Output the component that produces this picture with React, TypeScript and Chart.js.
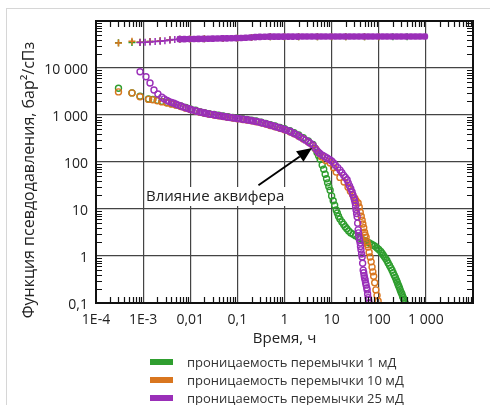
import React, { useEffect, useRef } from 'react';
import { Chart, registerables } from 'chart.js';

Chart.register(...registerables);

const FONT = '"Open Sans", "Noto Sans", sans-serif';

// ---- axis ticks ----
const xTickValues = [1e-4, 1e-3, 0.01, 0.1, 1, 10, 100, 1000, 10000];
const xTickLabels = ['1E-4', '1E-3', '0,01', '0,1', '1', '10', '100', '1 000', ''];
const yTickValues = [0.1, 1, 10, 100, 1000, 10000, 100000];
const yTickLabels = ['0,1', '1', '10', '100', '1 000', '10 000', ''];
const minorMultipliers = [2, 3, 4, 5, 6, 7, 8, 9];

const xTitle = 'Время, ч';
const yTitle = 'Функция псевдодавления, бар²/сПз';

const seriesNames = [
  'проницаемость перемычки 1 мД',
  'проницаемость перемычки 10 мД',
  'проницаемость перемычки 25 мД',
];
const seriesColors = ['#2f9e2f', '#d9761f', '#9a2fb8'];

// ---- upper curves (pseudo-pressure change) ----
const greenPressT = [3e-4, 5.8e-4, 8.6e-4, 1.4e-3, 2.3e-3, 3.7e-3, 6e-3, 0.01, 0.02, 0.05, 0.1, 0.2, 0.5, 1, 2, 5, 10, 20, 50, 100, 200, 400];
const greenPressV = [34500, 35000, 35500, 36500, 38000, 40000, 41000, 41500, 42000, 42500, 43000, 44500, 46000, 46500, 46500, 46500, 46500, 46500, 46500, 46500, 46500, 46500];
const orangePressT = [3e-4, 5.8e-4, 8.6e-4, 1.4e-3, 2.3e-3, 3.7e-3, 6e-3, 0.01, 0.02, 0.05, 0.1, 0.2, 0.5, 1, 2, 5, 10, 20, 50, 100];
const orangePressV = [34000, 37000, 35500, 36500, 38000, 40000, 41000, 41500, 42000, 42500, 43000, 44500, 46000, 46500, 46500, 46500, 46500, 46500, 46500, 46500];
const purplePressT = [8.6e-4, 1.1e-3, 1.4e-3, 1.8e-3, 2.3e-3, 2.9e-3, 3.7e-3, 4.7e-3, 6e-3, 7.5e-3, 0.0095, 0.012, 0.015, 0.019, 0.024, 0.03, 0.038, 0.048, 0.06, 0.075, 0.095, 0.12, 0.15, 0.19, 0.24, 0.3, 0.38, 0.48, 0.6, 0.75, 0.95, 1.2, 1.5, 1.9, 2.4, 3, 3.8, 4.8, 6, 7.5, 9.5, 12, 15, 19, 24, 30, 38, 48, 60, 75, 95, 120, 150, 190, 240, 300, 380, 480, 600, 750, 950];
const purplePressV = [35000, 35500, 35800, 36500, 37000, 38000, 39500, 40500, 41000, 41200, 41400, 41500, 41600, 41800, 42000, 42200, 42400, 42600, 42800, 43000, 43200, 43500, 44000, 44500, 45500, 46000, 46300, 46500, 46500, 46500, 46500, 46600, 46600, 46600, 46700, 46700, 46700, 46700, 46800, 46800, 46800, 46800, 46800, 46800, 46800, 46800, 46800, 46800, 46800, 46800, 46800, 46800, 46800, 46800, 46800, 46800, 46800, 46800, 46800, 46800, 46800];

// ---- lower curves (derivative) ----
const greenDerivT = [3e-4, 5.8e-4, 8.6e-4, 1.3e-3, 1.6e-3, 2e-3, 2.5e-3, 3.2e-3, 4e-3, 5e-3, 6.3e-3, 8e-3, 0.01, 0.013, 0.016, 0.02, 0.025, 0.032, 0.04, 0.05, 0.063, 0.08, 0.1, 0.13, 0.16, 0.2, 0.25, 0.32, 0.4, 0.5, 0.63, 0.8, 1, 1.3, 1.6, 2, 2.5, 3.2, 4, 4.4, 4.9, 5.3, 5.7, 6.3, 6.8, 7.3, 7.8, 8.2, 8.7, 9.3, 10, 10.8, 11.6, 12.5, 13.2, 14, 15, 16.5, 18, 19.4, 21, 23, 25.5, 28.6, 32, 36.5, 41, 46.7, 52, 57, 63, 70, 76, 83, 92, 100, 110, 117, 124, 132, 140, 149, 158, 169, 180, 191, 202, 213, 225, 236, 246, 255, 265, 275, 285, 297, 310, 320, 330, 340, 350, 364];
const greenDerivV = [3700, 2950, 2500, 2200, 2150, 2050, 1950, 1850, 1750, 1650, 1550, 1450, 1350, 1260, 1180, 1120, 1070, 1030, 990, 950, 915, 885, 860, 830, 800, 775, 745, 705, 665, 625, 585, 545, 510, 465, 420, 375, 330, 280, 235, 195, 160, 135, 115, 86, 70, 55, 44, 36, 30, 25, 19, 15, 12, 9.5, 8.2, 7, 6.1, 5.3, 4.7, 4.2, 3.8, 3.4, 3.1, 2.9, 2.7, 2.5, 2.35, 2.2, 2.1, 2.0, 1.9, 1.78, 1.7, 1.62, 1.48, 1.38, 1.25, 1.15, 1.05, 0.96, 0.88, 0.8, 0.71, 0.63, 0.56, 0.5, 0.44, 0.39, 0.35, 0.31, 0.28, 0.25, 0.23, 0.21, 0.19, 0.17, 0.155, 0.14, 0.13, 0.12, 0.115, 0.1];
const orangeDerivT = [3e-4, 5.8e-4, 8.6e-4, 1.3e-3, 1.6e-3, 2e-3, 2.5e-3, 3.2e-3, 4e-3, 5e-3, 6.3e-3, 8e-3, 0.01, 0.013, 0.016, 0.02, 0.025, 0.032, 0.04, 0.05, 0.063, 0.08, 0.1, 0.13, 0.16, 0.2, 0.25, 0.32, 0.4, 0.5, 0.63, 0.8, 1, 1.3, 1.6, 2, 2.5, 3.2, 4, 4.6, 5.3, 6.2, 7.5, 9.3, 11, 12.5, 15, 18.4, 22.3, 25, 28, 31, 33, 36.5, 38.5, 40.5, 42.5, 44.4, 46, 48, 50, 51.4, 54, 56, 57.5, 59.6, 62.5, 65.7, 69, 72, 75, 78, 82, 87, 92, 97];
const orangeDerivV = [3100, 2950, 2450, 2150, 2100, 2000, 1900, 1800, 1700, 1620, 1520, 1400, 1310, 1220, 1150, 1090, 1040, 1000, 960, 925, 890, 860, 835, 805, 780, 750, 720, 680, 640, 600, 560, 520, 485, 440, 400, 355, 310, 265, 225, 190, 155, 128, 108, 95, 75, 61, 47, 37.5, 29, 24, 20, 17, 15, 13.4, 11, 8.5, 7, 5.8, 4.8, 4, 3.2, 2.8, 2.5, 2.0, 1.75, 1.55, 1.2, 0.95, 0.75, 0.58, 0.46, 0.37, 0.27, 0.19, 0.145, 0.11];
const purpleDerivT = [8.6e-4, 1.15e-3, 1.4e-3, 1.7e-3, 2.06e-3, 2.5e-3, 2.8e-3, 3.2e-3, 3.5e-3, 4e-3, 4.5e-3, 5e-3, 5.6e-3, 6.3e-3, 7.1e-3, 8e-3, 9e-3, 0.01, 0.011, 0.013, 0.014, 0.016, 0.018, 0.02, 0.022, 0.025, 0.028, 0.032, 0.035, 0.04, 0.045, 0.05, 0.056, 0.063, 0.071, 0.08, 0.09, 0.1, 0.11, 0.13, 0.14, 0.16, 0.18, 0.2, 0.22, 0.25, 0.28, 0.32, 0.35, 0.4, 0.45, 0.5, 0.56, 0.63, 0.71, 0.8, 0.9, 1, 1.1, 1.3, 1.4, 1.6, 1.8, 2, 2.2, 2.5, 2.8, 3.2, 3.5, 4, 4.4, 4.9, 5.3, 5.7, 6.5, 7.2, 8, 9, 10, 11, 12, 13.5, 15.1, 16.5, 18, 19.5, 21.3, 22.5, 24, 25.5, 27.2, 28.3, 29.5, 30.5, 31.5, 32.2, 33, 33.9, 34.8, 35.7, 36.5, 37.2, 38, 39, 40.3, 41, 42, 43.2, 44.4, 45.5, 46.7, 48, 49, 50, 51.4, 52.5, 54, 55.5, 56.7, 58, 59.6, 61, 62.5];
const purpleDerivV = [8300, 6500, 4800, 3400, 2800, 2400, 2200, 2050, 1950, 1850, 1780, 1700, 1620, 1550, 1480, 1420, 1370, 1320, 1280, 1230, 1195, 1160, 1130, 1100, 1075, 1050, 1030, 1010, 990, 970, 950, 935, 918, 900, 885, 870, 858, 845, 830, 815, 803, 790, 775, 760, 745, 730, 710, 690, 670, 650, 630, 610, 590, 570, 550, 530, 512, 495, 472, 450, 428, 405, 383, 360, 338, 315, 292, 270, 250, 230, 200, 175, 160, 150, 137, 130, 122, 113, 105, 95, 85, 76, 67, 59, 52, 47, 42, 36, 31, 27, 23, 20, 17.5, 15.5, 13.5, 11.5, 9.5, 8, 6.8, 5, 3.6, 3.1, 2.6, 2.2, 1.9, 1.6, 1.35, 1.1, 0.95, 0.7, 0.5, 0.44, 0.38, 0.34, 0.31, 0.27, 0.24, 0.21, 0.19, 0.155, 0.13, 0.115, 0.1];

// ---- annotation ----
const annotationText = 'Влияние аквифера';
const annotationTextAt = [1.15e-3, 18];
const arrowFrom = [0.28, 32];
const arrowTo = [3.85, 199];

const toPoints = (t: number[], v: number[]) => t.map((x, i) => ({ x, y: v[i] }));

const frameBoxPlugin = {
  id: 'frameBox',
  afterDatasetsDraw(chart: any) {
    const { ctx, chartArea: a, scales } = chart;
    const xs = scales.x;
    const ys = scales.y;
    ctx.save();
    // minor ticks
    ctx.strokeStyle = '#111';
    ctx.lineWidth = 1.2;
    const tickLen = 6;
    ctx.beginPath();
    for (let i = 0; i < xTickValues.length - 1; i++) {
      for (const m of minorMultipliers) {
        const px = Math.round(xs.getPixelForValue(xTickValues[i] * m)) + 0.5;
        ctx.moveTo(px, a.bottom);
        ctx.lineTo(px, a.bottom - tickLen);
        ctx.moveTo(px, a.top);
        ctx.lineTo(px, a.top + tickLen);
      }
    }
    for (let i = 0; i < yTickValues.length - 1; i++) {
      for (const m of minorMultipliers) {
        const py = Math.round(ys.getPixelForValue(yTickValues[i] * m)) + 0.5;
        ctx.moveTo(a.left, py);
        ctx.lineTo(a.left + tickLen, py);
        ctx.moveTo(a.right, py);
        ctx.lineTo(a.right - tickLen, py);
      }
    }
    ctx.stroke();
    // border
    ctx.lineWidth = 2;
    ctx.strokeStyle = '#111';
    ctx.strokeRect(a.left, a.top, a.right - a.left, a.bottom - a.top);

    // annotation text with white background
    ctx.font = `15px ${FONT}`;
    ctx.textAlign = 'left';
    ctx.textBaseline = 'middle';
    const tx = xs.getPixelForValue(annotationTextAt[0]);
    const ty = ys.getPixelForValue(annotationTextAt[1]);
    const tw = ctx.measureText(annotationText).width;
    ctx.fillStyle = '#ffffff';
    ctx.fillRect(tx - 1, ty - 10, tw + 4, 19);
    ctx.fillStyle = '#222';
    ctx.fillText(annotationText, tx, ty);

    // arrow
    const x1 = xs.getPixelForValue(arrowFrom[0]);
    const y1 = ys.getPixelForValue(arrowFrom[1]);
    const x2 = xs.getPixelForValue(arrowTo[0]);
    const y2 = ys.getPixelForValue(arrowTo[1]);
    const ang = Math.atan2(y2 - y1, x2 - x1);
    const headLen = 15;
    const headHalf = 6.5;
    const bx = x2 - headLen * Math.cos(ang);
    const by = y2 - headLen * Math.sin(ang);
    ctx.strokeStyle = '#000';
    ctx.lineWidth = 2;
    ctx.beginPath();
    ctx.moveTo(x1, y1);
    ctx.lineTo(bx, by);
    ctx.stroke();
    ctx.fillStyle = '#000';
    ctx.beginPath();
    ctx.moveTo(x2, y2);
    ctx.lineTo(bx + headHalf * Math.sin(ang), by - headHalf * Math.cos(ang));
    ctx.lineTo(bx - headHalf * Math.sin(ang), by + headHalf * Math.cos(ang));
    ctx.closePath();
    ctx.fill();

    // y title
    ctx.translate(29, (a.top + a.bottom) / 2 + 18);
    ctx.rotate(-Math.PI / 2);
    ctx.font = `16px ${FONT}`;
    ctx.textAlign = 'center';
    ctx.textBaseline = 'middle';
    ctx.fillStyle = '#222';
    ctx.fillText(yTitle, 0, 0);
    ctx.restore();
  },
};

export default function App() {
  const canvasRef = useRef<HTMLCanvasElement | null>(null);

  useEffect(() => {
    if (!canvasRef.current) return;
    const [green, orange, purple] = seriesColors;
    const cross = (c: string, d: any[]) => ({
      data: d,
      showLine: false,
      pointStyle: 'cross',
      pointRadius: 3.5,
      pointBorderWidth: 1.5,
      pointBorderColor: c,
      pointBackgroundColor: c,
    });
    const ring = (c: string, d: any[]) => ({
      data: d,
      showLine: false,
      pointStyle: 'circle',
      pointRadius: 3,
      pointBorderWidth: 1.4,
      pointBorderColor: c,
      pointBackgroundColor: 'rgba(255,255,255,0)',
    });
    const chart = new Chart(canvasRef.current, {
      type: 'scatter',
      data: {
        datasets: [
          {
            label: seriesNames[2],
            data: toPoints(purplePressT, purplePressV),
            showLine: false,
            pointStyle: (c: any) => (c.raw && c.raw.x < 0.005 ? 'cross' : 'rectRounded'),
            pointRadius: (c: any) => (c.raw && c.raw.x < 0.005 ? 3.5 : 3),
            pointBorderWidth: 1.5,
            pointBorderColor: purple,
            pointBackgroundColor: purple,
          } as any,
          { label: seriesNames[2], ...ring(purple, toPoints(purpleDerivT, purpleDerivV)) } as any,
          { label: seriesNames[1], ...cross(orange, toPoints(orangePressT, orangePressV)) } as any,
          { label: seriesNames[1], ...ring(orange, toPoints(orangeDerivT, orangeDerivV)) } as any,
          { label: seriesNames[0], ...cross(green, toPoints(greenPressT, greenPressV)) } as any,
          { label: seriesNames[0], ...ring(green, toPoints(greenDerivT, greenDerivV)) } as any,
        ],
      },
      options: {
        animation: false,
        responsive: false,
        devicePixelRatio: 1,
        layout: { padding: { left: 0, right: 17, top: 21, bottom: 57 } },
        plugins: { legend: { display: false }, tooltip: { enabled: false } },
        scales: {
          x: {
            type: 'logarithmic',
            position: 'bottom',
            min: 1e-4,
            max: 1e4,
            afterBuildTicks: (s: any) => {
              s.ticks = xTickValues.map((v) => ({ value: v }));
            },
            afterFit: (s: any) => {
              s.height = 45;
            },
            ticks: {
              autoSkip: false,
              maxRotation: 0,
              minRotation: 0,
              padding: 9,
              color: '#222',
              font: { family: FONT, size: 14 },
              callback: (_v: any, i: number) => xTickLabels[i],
            },
            grid: { color: '#444', lineWidth: 1.2, drawTicks: false },
            border: { display: false },
            title: { display: true, text: xTitle, color: '#222', font: { family: FONT, size: 15 }, padding: 0 },
          },
          y: {
            type: 'logarithmic',
            position: 'left',
            min: 0.1,
            max: 1e5,
            afterBuildTicks: (s: any) => {
              s.ticks = yTickValues.map((v) => ({ value: v }));
            },
            afterFit: (s: any) => {
              s.width = 96;
            },
            ticks: {
              autoSkip: false,
              padding: 8,
              labelOffset: 2,
              color: '#222',
              font: { family: FONT, size: 14 },
              callback: (_v: any, i: number) => yTickLabels[i],
            },
            grid: { color: '#444', lineWidth: 1.2, drawTicks: false },
            border: { display: false },
          },
        },
      } as any,
      plugins: [frameBoxPlugin],
    });
    return () => chart.destroy();
  }, []);

  return (
    <div
      style={{
        position: 'absolute',
        left: 0,
        top: 0,
        width: 490,
        height: 405,
        overflow: 'hidden',
        background: '#fff',
        fontFamily: FONT,
      }}
    >
      <div
        style={{
          position: 'absolute',
          left: 6,
          top: 8,
          width: 500,
          height: 420,
          border: '1px solid #d6d6d6',
          boxSizing: 'border-box',
        }}
      />
      <canvas ref={canvasRef} width={490} height={405} style={{ position: 'absolute', left: 0, top: 0 }} />
      <div style={{ position: 'absolute', left: 150, top: 353 }}>
        {seriesNames.map((name, i) => (
          <div key={name} style={{ display: 'flex', alignItems: 'center', height: 18 }}>
            <span style={{ display: 'inline-block', width: 23, height: 6, background: seriesColors[i], marginRight: 14 }} />
            <span style={{ fontSize: 13, color: '#333', whiteSpace: 'nowrap' }}>{name}</span>
          </div>
        ))}
      </div>
    </div>
  );
}
